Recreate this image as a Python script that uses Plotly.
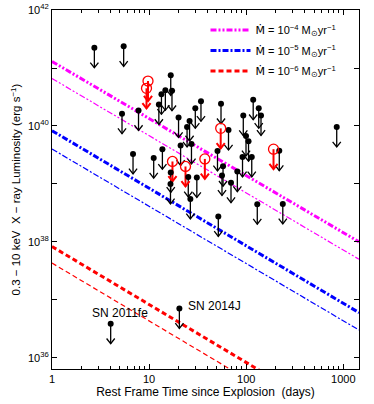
import numpy as np
import plotly.graph_objects as go


# model light curves, read at the two ends of the time axis (days, erg/s)
model_t = [1, 1450]
mdot4_thick = [1.3e41, 1.0e38]
mdot4_thin = [6.6e40, 5.0e37]
mdot5_thick = [8.3e39, 6.0e36]
mdot5_thin = [4.0e39, 3.0e36]
mdot6_thick = [8.3e37, 5.7e34]
mdot6_thin = [4.3e37, 3.0e34]

# black upper limits (rest frame days, erg/s)
lim_t = [2.73, 5.47, 5.26, 7.78, 16.7, 14.7, 13.4, 12.6, 17.2, 20.1,
         26.1, 24.6, 29.9, 34.2, 55.0, 65.7, 93.3, 118, 134.5, 142,
         99.5, 105.6, 855, 21.1, 27.3, 6.83, 11.15, 13.7, 50.6, 91.6,
         114, 219, 57.7, 81, 56.3, 69.7, 16.7, 16.6, 25.3, 31.0,
         26.6, 51.6, 130, 238]
lim_L = [2.24e41, 2.37e41, 1.63e40, 1.85e40, 7.48e40, 4.13e40, 3.52e40, 2.35e40, 4.06e40, 1.40e40,
         1.22e40, 9.6e39, 2.02e40, 2.67e40, 2.42e40, 8.5e39, 1.51e40, 2.84e40, 2.02e40, 1.52e40,
         6.73e39, 5.45e39, 9.6e39, 4.61e39, 4.9e39, 3.29e39, 2.79e39, 3.96e39, 3.71e39, 2.92e39,
         2.92e39, 3.75e39, 2.02e39, 1.63e39, 1.40e39, 1.05e39, 1.58e39, 1.0e39, 1.32e39, 1.29e39,
         5.5e38, 2.75e38, 4.47e38, 4.52e38]

# red (open circle) upper limits
red_t = [9.74, 9.40, 54.6, 17.4, 23.7, 37.5, 191]
red_L = [5.97e40, 4.47e40, 9.1e39, 2.44e39, 2.0e39, 2.7e39, 3.98e39]

# nearby SNe
sn_names = ['SN 2011fe', 'SN 2014J']
sn_t = [4.02, 20.5]
sn_L = [3.86e36, 7.1e36]

DROP = 0.345       # arrow length in dex
HEAD_W = 0.042     # half width of the arrow head in dex of time
HEAD_H = 0.09      # height of the arrow head in dex of luminosity
FONT = 'Liberation Sans'
MDOT = '<span style="font-family:DejaVu Sans">Ṁ</span>'

fig = go.Figure()

curves = [
    (mdot4_thick, '#ff00ff', 3, '6px,2px,2px,2px,2px,2px', MDOT + ' = 10<sup>−4</sup> M<sub>⊙</sub>yr<sup>−1</sup>'),
    (mdot5_thick, '#0000ff', 3, '6px,2px,2px,2px', MDOT + ' = 10<sup>−5</sup> M<sub>⊙</sub>yr<sup>−1</sup>'),
    (mdot6_thick, '#ff0000', 3, '5px,3px', MDOT + ' = 10<sup>−6</sup> M<sub>⊙</sub>yr<sup>−1</sup>'),
    (mdot4_thin, '#ff00ff', 1.2, '6px,2px,2px,2px,2px,2px', None),
    (mdot5_thin, '#0000ff', 1.2, '6px,2px,2px,2px', None),
    (mdot6_thin, '#ff0000', 1.2, '5px,3px', None),
]
for i, (yy, col, w, dash, name) in enumerate(curves):
    fig.add_trace(go.Scatter(x=model_t, y=yy, mode='lines', name=name,
                             showlegend=name is not None, legendgroup='g%d' % i,
                             line=dict(color=col, width=w, dash=dash)))


# downward arrows for upper limits: shaft + open V head
def arrow_paths(tt, LL):
    xs, ys = [], []
    a = 10 ** HEAD_W
    for t, L in zip(tt, LL):
        tip = L * 10 ** (-DROP)
        top = tip * 10 ** HEAD_H
        xs += [t, t, None, t / a, t, t * a, None]
        ys += [L, tip, None, top, tip, top, None]
    return xs, ys


bx, by = arrow_paths(lim_t + sn_t, lim_L + sn_L)
fig.add_trace(go.Scatter(x=bx, y=by, mode='lines', showlegend=False, hoverinfo='skip',
                         line=dict(color='black', width=1.3)))
rx, ry = arrow_paths(red_t, red_L)
fig.add_trace(go.Scatter(x=rx, y=ry, mode='lines', showlegend=False, hoverinfo='skip',
                         line=dict(color='red', width=2)))

fig.add_trace(go.Scatter(x=lim_t + sn_t, y=lim_L + sn_L, mode='markers', showlegend=False,
                         marker=dict(color='black', size=6)))
fig.add_trace(go.Scatter(x=red_t, y=red_L, mode='markers', showlegend=False,
                         marker=dict(symbol='circle-open', color='red', size=10,
                                     line=dict(width=1.3))))

# SN labels
fig.add_annotation(x=np.log10(sn_t[0]), y=np.log10(sn_L[0]), text=sn_names[0],
                   showarrow=False, xanchor='center', yanchor='middle', xshift=9, yshift=11,
                   font=dict(size=12, color='black', family=FONT))
fig.add_annotation(x=np.log10(sn_t[1]), y=np.log10(sn_L[1]), text=sn_names[1],
                   showarrow=False, xanchor='left', yanchor='middle', xshift=7, yshift=2,
                   font=dict(size=12, color='black', family=FONT))

ytick_vals = [10.0**k for k in range(36, 43, 2)]
ytick_text = ['10<sup>%d</sup>' % k for k in range(36, 43, 2)]
yminor = [10.0**k for k in range(37, 42, 2)]
xminor = [m * 10.0**k for k in range(0, 4) for m in range(2, 10)]

axis_common = dict(type='log', showline=True, linecolor='black', linewidth=1, mirror='allticks',
                   ticks='inside', ticklen=5, tickcolor='black', showgrid=False, zeroline=False,
                   automargin=False, tickfont=dict(size=11, color='black', family=FONT))

fig.update_layout(
    width=374, height=404,
    margin=dict(l=52, r=15, t=10, b=35),
    plot_bgcolor='white', paper_bgcolor='white',
    font=dict(family=FONT, color='black', size=11),
    xaxis=dict(range=[0, np.log10(1450)], tickvals=[1, 10, 100, 1000],
               ticktext=['1', '10', '100', '1000'],
               minor=dict(ticks='inside', ticklen=3, tickcolor='black', tickvals=xminor),
               title=dict(text='Rest Frame Time since Explosion  (days)', standoff=2,
                          font=dict(size=12)),
               **axis_common),
    yaxis=dict(range=[35.805, 42.002], tickvals=ytick_vals, ticktext=ytick_text,
               minor=dict(ticks='inside', ticklen=5, tickcolor='black', tickvals=yminor),
               title=dict(text='0.3 − 10 keV  X − ray Luminosity (erg s<sup>−1</sup>)', standoff=4,
                          font=dict(size=11.5)),
               **axis_common),
    legend=dict(x=0.5, y=0.985, xanchor='left', yanchor='top', bgcolor='rgba(0,0,0,0)',
                itemwidth=40, tracegroupgap=1.5, font=dict(size=11, family=FONT)),
)

fig.write_html("out.html", config={'displayModeBar': False},
               post_script="document.body.style.margin='0';")
